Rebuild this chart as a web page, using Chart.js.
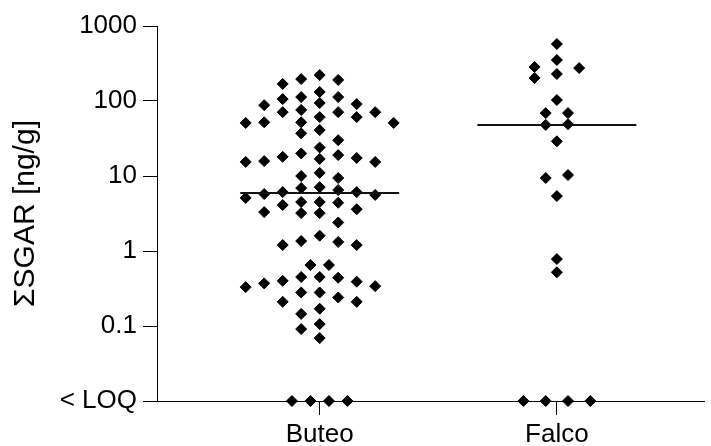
<!DOCTYPE html>
<html>
<head>
<meta charset="utf-8">
<script src="https://cdn.jsdelivr.net/npm/chart.js@4"></script>
<style>
  body { margin: 0; background: #fff; }
</style>
</head>
<body>
<canvas id="myChart" width="711" height="446"></canvas>
<script>
// Grupos e valores de ΣSGAR (ng/g); 0 = abaixo do LOQ
const categories = ['Buteo', 'Falco'];

const buteoValues = [
    222, 196, 191, 169, 132, 113, 113, 106, 94, 91, 88, 76, 71, 71, 71,
    61, 61, 52, 52, 51, 51, 41, 37, 30, 24, 20, 19, 18, 17.4, 16.9, 15.8,
    15.4, 15.4, 11.0, 10, 9.4, 7.1, 6.9, 6.5, 6.1, 6.1, 5.75, 5.6, 5.1,
    4.5, 4.5, 4.4, 4.1, 3.6, 3.3, 3.2, 3.2, 2.4, 1.6, 1.36, 1.32, 1.2, 1.2,
    0.65, 0.65, 0.45, 0.45, 0.44, 0.40, 0.39, 0.37, 0.34, 0.33, 0.28, 0.28,
    0.24, 0.21, 0.21, 0.17, 0.145, 0.106, 0.091, 0.069,
    0, 0, 0, 0
];

const falcoValues = [
    575, 352, 284, 275, 229, 203, 103, 69, 69, 49, 48, 29, 10.3, 9.4, 5.4,
    0.78, 0.52,
    0, 0, 0, 0
];

const yTickValues = [0.01, 0.1, 1, 10, 100, 1000];
const yTickLabels = ['< LOQ', '0.1', '1', '10', '100', '1000'];

// Posição usada no eixo para os valores < LOQ
const LOQ_POS = 0.01;

// Largura de cada "coluna" do enxame, em unidades do eixo x
const slotWidth = [0.078, 0.094];

const fontSpec = { family: "'Liberation Sans', Arial, sans-serif", size: 26 };

function median(values) {
    const s = [...values].sort((a, b) => a - b);
    const m = Math.floor(s.length / 2);
    return s.length % 2 ? s[m] : (s[m - 1] + s[m]) / 2;
}

// Distribui os pontos em colunas para não se sobreporem (estilo "beeswarm")
function swarm(values, center, width) {
    const minGap = 0.145; // distância mínima vertical, em décadas
    const placed = [];
    values.forEach(v => {
        const y = v > 0 ? v : LOQ_POS;
        const ly = Math.log10(y);
        for (let k = 0; ; k++) {
            const s = k === 0 ? 0 : (k % 2 ? -(k + 1) / 2 : k / 2);
            if (!placed.some(p => p.s === s && Math.abs(p.ly - ly) < minGap)) {
                placed.push({ ly, s, y });
                break;
            }
        }
    });

    // Grupos quase empatados e isolados ficam centralizados
    const byLy = [...placed].sort((a, b) => a.ly - b.ly);
    let groups = [];
    byLy.forEach((p, i) => {
        if (i > 0 && p.ly - byLy[i - 1].ly < 0.05) groups[groups.length - 1].push(p);
        else groups.push([p]);
    });
    groups.forEach(g => {
        if (g.length < 2) return;
        const lo = g[0].ly, hi = g[g.length - 1].ly;
        const isolated = !placed.some(p => !g.includes(p) &&
            p.ly > lo - minGap && p.ly < hi + minGap);
        if (!isolated) return;
        const mean = g.reduce((a, p) => a + p.s, 0) / g.length;
        g.forEach(p => { p.s -= mean; });
    });

    return placed.map(p => ({ x: center + p.s * width, y: p.y }));
}

function medianLine(values, center) {
    const m = median(values);
    return [{ x: center - 0.335, y: m }, { x: center + 0.335, y: m }];
}

const groups = [buteoValues, falcoValues];

const pointSets = groups.map((vals, i) => ({
    type: 'scatter',
    data: swarm(vals, i + 1, slotWidth[i]),
    pointStyle: 'rectRot',
    pointRadius: 5.5,
    pointBorderWidth: 1,
    backgroundColor: '#000',
    borderColor: '#000',
    clip: false
}));

const medianSets = groups.map((vals, i) => ({
    type: 'line',
    data: medianLine(vals, i + 1),
    borderColor: '#111',
    borderWidth: 2,
    pointRadius: 0,
    fill: false,
    clip: false
}));

const ctx = document.getElementById('myChart').getContext('2d');

new Chart(ctx, {
    type: 'scatter',
    data: { datasets: [...medianSets, ...pointSets] },
    options: {
        responsive: false,
        animation: false,
        layout: { padding: { top: 26, right: 0, bottom: 0, left: 0 } },
        plugins: {
            legend: { display: false },
            tooltip: { enabled: false }
        },
        scales: {
            x: {
                type: 'linear',
                min: 0.314,
                max: 2.6225,
                afterBuildTicks: scale => {
                    scale.ticks = categories.map((c, i) => ({ value: i + 1 }));
                },
                afterFit: scale => { scale.height = 45; },
                ticks: {
                    callback: (value, index) => categories[index],
                    color: '#000',
                    font: fontSpec,
                    padding: 4,
                    maxRotation: 0
                },
                grid: {
                    drawOnChartArea: false,
                    drawTicks: true,
                    tickLength: 14,
                    color: '#000'
                },
                border: { color: '#000', width: 1 }
            },
            y: {
                type: 'logarithmic',
                min: 0.01,
                max: 1000,
                afterBuildTicks: scale => {
                    scale.ticks = yTickValues.map(v => ({ value: v }));
                },
                afterFit: scale => { scale.width = 157; },
                ticks: {
                    callback: (value, index) => yTickLabels[index],
                    color: '#000',
                    font: fontSpec,
                    padding: 6
                },
                grid: {
                    drawOnChartArea: false,
                    drawTicks: true,
                    tickLength: 14,
                    color: '#000'
                },
                border: { color: '#000', width: 1 },
                title: {
                    display: true,
                    text: 'ΣSGAR [ng/g]',
                    color: '#000',
                    font: { family: fontSpec.family, size: 30 },
                    padding: { top: 8, bottom: 0 }
                }
            }
        }
    }
});
</script>
</body>
</html>
